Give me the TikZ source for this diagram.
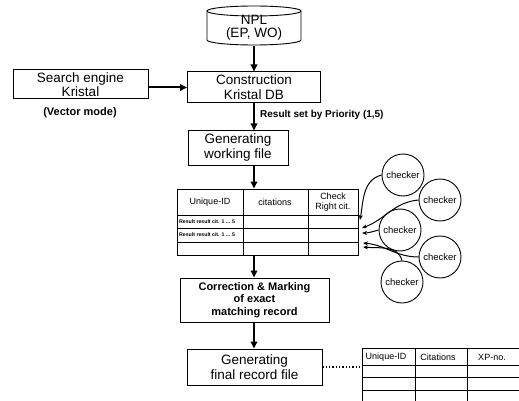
\documentclass[tikz,border=0pt]{standalone}
\usepackage{fontspec}
\setmainfont{Liberation Sans}
\usetikzlibrary{arrows.meta}
\begin{document}
\begin{tikzpicture}[x=1pt,y=1pt,
  box/.style={draw, line width=1pt, inner sep=0pt, align=center, font=\fontsize{13.5}{15}\selectfont},
  arr/.style={line width=2pt, -{Triangle[length=7pt,width=6.5pt]}},
  chk/.style={draw, circle, line width=0.9pt, minimum size=42pt, inner sep=0pt, font=\fontsize{9.5}{10}\selectfont},
  carr/.style={line width=1pt, -{Stealth[length=5pt,width=4pt]}},
  hd/.style={font=\fontsize{9}{10}\selectfont, align=center, inner sep=0pt},
  tinytxt/.style={font=\bfseries\fontsize{5.2}{6}\selectfont, anchor=west, inner sep=0pt},
  grid/.style={line width=0.9pt}
]
\useasboundingbox (0,0) rectangle (519,-401);
% NPL cylinder
\draw[line width=0.9pt] (207,-11) -- (207,-40) arc[start angle=180,end angle=360,x radius=47pt,y radius=5pt] -- (301,-11);
\draw[line width=0.9pt] (254,-11) ellipse[x radius=47pt,y radius=5pt];
\node[align=center, font=\fontsize{13.5}{13}\selectfont, minimum width=94pt, minimum height=36pt, inner sep=0pt] (npl) at (254,-28) {NPL\\(EP, WO)};
% boxes
\node[box, minimum width=135pt, minimum height=29pt, font=\fontsize{13.5}{12.5}\selectfont] (search) at (80.5,-84.5) {Search engine\\Kristal};
\node[font=\bfseries\fontsize{11}{12}\selectfont, inner sep=0pt] (vm) at (80,-113) {(Vector mode)};
\node[box, minimum width=133pt, minimum height=31pt] (constr) at (254,-87.5) {Construction\\Kristal DB};
\node[font=\bfseries\fontsize{10}{11}\selectfont, anchor=west, inner sep=0pt] (res) at (260,-115) {Result set by Priority (1,5)};
\node[box, minimum width=100pt, minimum height=34pt] (gen) at (238,-148) {Generating\\working file};
% working table
\node[draw, line width=1pt, minimum width=181pt, minimum height=66pt, inner sep=0pt] (tbl) at (267.5,-222) {};
\draw[grid] (177,-215) -- (358,-215);
\draw[grid] (177,-228) -- (358,-228);
\draw[grid] (177,-242) -- (358,-242);
\draw[grid] (243,-189) -- (243,-255);
\draw[grid] (308,-189) -- (308,-255);
\node[hd] (h1) at (210,-202) {Unique-ID};
\node[hd] (h2) at (275,-202) {citations};
\node[hd] (h3) at (333,-202) {Check\\Right cit.};
\node[tinytxt] (r1) at (179,-221.5) {Result result cit. 1 ... 5};
\node[tinytxt] (r2) at (179,-235) {Result result cit. 1 ... 5};
% lower boxes
\node[box, minimum width=149pt, minimum height=44pt, font=\bfseries\fontsize{11}{12.5}\selectfont] (corr) at (254.5,-300) {Correction \& Marking\\of exact\\matching record};
\node[box, minimum width=135pt, minimum height=36pt] (final) at (254.5,-367) {Generating\\final record file};
% final table
\coordinate (ftw) at (362,-367);
\draw[grid] (362,-348) -- (519,-348);
\draw[grid] (362,-365) -- (519,-365);
\draw[grid] (362,-377) -- (519,-377);
\draw[grid] (362,-390) -- (519,-390);
\draw[grid] (362,-348) -- (362,-401);
\draw[grid] (415,-348) -- (415,-401);
\draw[grid] (467,-348) -- (467,-401);
\node[hd] (f1) at (386,-357) {Unique-ID};
\node[hd] (f2) at (438,-357) {Citations};
\node[hd] (f3) at (492,-357) {XP-no.};
% checkers
\node[chk] (c1) at (403,-175) {checker};
\node[chk] (c2) at (440,-200) {checker};
\node[chk] (c3) at (400,-230) {checker};
\node[chk] (c4) at (440,-257) {checker};
\node[chk] (c5) at (402,-282) {checker};
\coordinate (t1) at (360,-220);
\coordinate (t2) at (362,-228);
\coordinate (t3) at (362,-233);
\coordinate (t4) at (363,-243);
\coordinate (t5) at (363,-247);
% connectors
\draw[arr] (npl.south) -- (constr.north);
\draw[arr] (constr.west -| search.east) -- (constr.west);
\draw[arr] (constr.south) -- (gen.north -| constr.south);
\draw[arr] (gen.south -| constr.south) -- (tbl.north -| constr.south);
\draw[arr] (tbl.south -| constr.south) -- (corr.north -| constr.south);
\draw[arr] (corr.south -| constr.south) -- (final.north -| constr.south);
\draw[line width=1.3pt, dotted] (final.east) -- (ftw);
\draw[carr] (c1.west) to[out=195,in=80] (t1);
\draw[carr] (c2.west) to[out=185,in=20] (t2);
\draw[carr] (c3.west) to[out=195,in=0] (t3);
\draw[carr] (c4.west) to[out=180,in=-5] (t4);
\draw[carr] (c5.north) to[out=105,in=-5] (t5);
\end{tikzpicture}
\end{document}
